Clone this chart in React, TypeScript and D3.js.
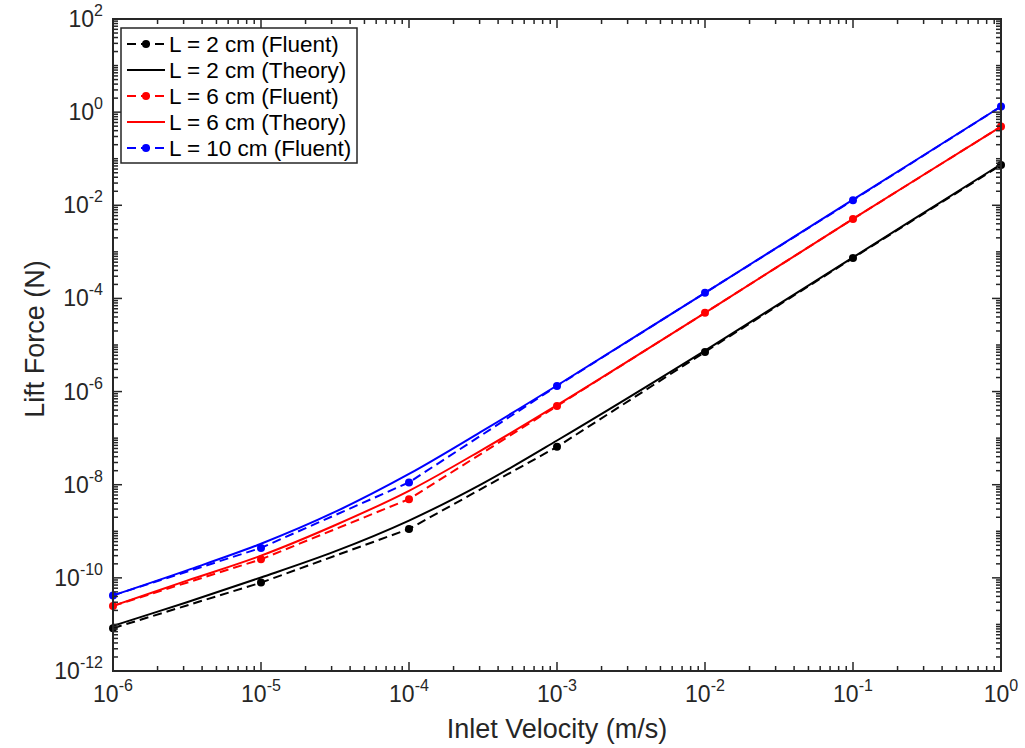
import React from "react";
import * as d3 from "d3";

// inlet velocity (m/s) at the Fluent sample points
const velocity = [1e-6, 1e-5, 1e-4, 1e-3, 1e-2, 1e-1, 1];
// Fluent results, lift force (N)
const fluent2 = [8.3e-12, 7.9e-11, 1.12e-9, 6.5e-8, 7.1e-6, 7.4e-4, 7.3e-2];
const fluent6 = [2.5e-11, 2.5e-10, 4.9e-9, 4.9e-7, 4.9e-5, 5.1e-3, 0.49];
const fluent10 = [4.2e-11, 4.4e-10, 1.12e-8, 1.32e-6, 1.32e-4, 1.29e-2, 1.32];

// theory curves, read at half decades
const velocityTheory = [1e-6, 3.16e-6, 1e-5, 3.16e-5, 1e-4, 3.16e-4, 1e-3, 1e-2, 1e-1, 1];
const theory2 = [9.3e-12, 3.0e-11, 1.02e-10, 3.7e-10, 1.7e-9, 1.07e-8, 8.9e-8, 7.6e-6, 7.6e-4, 7.6e-2];
const theory6 = [2.5e-11, 8.7e-11, 3.0e-10, 1.35e-9, 7.4e-9, 5.75e-8, 5.1e-7, 4.9e-5, 5.1e-3, 0.49];
const theory10 = [4.2e-11, 1.45e-10, 5.4e-10, 2.6e-9, 1.7e-8, 1.45e-7, 1.35e-6, 1.32e-4, 1.32e-2, 1.32];

const xExponents = [-6, -5, -4, -3, -2, -1, 0];
const yExponents = [-12, -10, -8, -6, -4, -2, 0, 2];

const legendLabels = [
  "L = 2 cm (Fluent)",
  "L = 2 cm (Theory)",
  "L = 6 cm (Fluent)",
  "L = 6 cm (Theory)",
  "L = 10 cm (Fluent)",
];

const FONT = "'Liberation Sans', Arial, Helvetica, sans-serif";
const AXIS = "#262626";

export default function App() {
  const left = 113, right = 1001, top = 19, bottom = 671;

  const x = d3.scaleLog().domain([1e-6, 1]).range([left, right]);
  const y = d3.scaleLog().domain([1e-12, 1e2]).range([bottom, top]);

  const dashLine = d3.line<[number, number]>()
    .x(d => x(d[0]))
    .y(d => y(d[1]));
  const smoothLine = d3.line<[number, number]>()
    .x(d => x(d[0]))
    .y(d => y(d[1]))
    .curve(d3.curveCatmullRom.alpha(0.5));

  const fluent = [
    { values: fluent2, color: "#000000" },
    { values: fluent6, color: "#ff0000" },
    { values: fluent10, color: "#0000ff" },
  ];
  const theory = [
    { values: theory2, color: "#000000" },
    { values: theory6, color: "#ff0000" },
    { values: theory10, color: "#0000ff" },
  ];

  // minor ticks (2..9 in each decade, plus odd decades on y)
  const xMinor: number[] = [];
  for (let k = -6; k < 0; k++) for (let m = 2; m <= 9; m++) xMinor.push(m * Math.pow(10, k));
  const yMinor: number[] = [];
  for (let k = -12; k < 2; k++) for (let m = 1; m <= 9; m++) {
    if (m === 1 && k % 2 === 0) continue;
    yMinor.push(m * Math.pow(10, k));
  }
  const MAJ = 9, MIN = 5;

  const legendColors = ["#000000", "#000000", "#ff0000", "#ff0000", "#0000ff"];
  const legendDashed = [true, false, true, false, true];

  return (
    <svg width={1025} height={748} style={{ position: "absolute", left: 0, top: 0, background: "#fff" }}>
      <rect x={0} y={0} width={1025} height={748} fill="#fff" />

      {/* theory curves */}
      {theory.map((s, i) => (
        <path key={"t" + i}
          d={smoothLine(velocityTheory.map((v, j) => [v, s.values[j]] as [number, number])) || ""}
          fill="none" stroke={s.color} strokeWidth={2} />
      ))}

      {/* fluent results */}
      {fluent.map((s, i) => (
        <g key={"f" + i}>
          <path d={dashLine(velocity.map((v, j) => [v, s.values[j]] as [number, number])) || ""}
            fill="none" stroke={s.color} strokeWidth={2} strokeDasharray="9,5" />
          {velocity.map((v, j) => (
            <circle key={j} cx={x(v)} cy={y(s.values[j])} r={4} fill={s.color} />
          ))}
        </g>
      ))}

      {/* axes box and ticks */}
      <g stroke={AXIS} strokeWidth={1.5}>
        {xExponents.map(k => {
          const px = x(Math.pow(10, k));
          return (
            <g key={"xM" + k}>
              <line x1={px} x2={px} y1={bottom} y2={bottom - MAJ} />
              <line x1={px} x2={px} y1={top} y2={top + MAJ} />
            </g>
          );
        })}
        {xMinor.map((v, i) => (
          <g key={"xm" + i}>
            <line x1={x(v)} x2={x(v)} y1={bottom} y2={bottom - MIN} />
            <line x1={x(v)} x2={x(v)} y1={top} y2={top + MIN} />
          </g>
        ))}
        {yExponents.map(k => {
          const py = y(Math.pow(10, k));
          return (
            <g key={"yM" + k}>
              <line x1={left} x2={left + MAJ} y1={py} y2={py} />
              <line x1={right} x2={right - MAJ} y1={py} y2={py} />
            </g>
          );
        })}
        {yMinor.map((v, i) => (
          <g key={"ym" + i}>
            <line x1={left} x2={left + MIN} y1={y(v)} y2={y(v)} />
            <line x1={right} x2={right - MIN} y1={y(v)} y2={y(v)} />
          </g>
        ))}
      </g>
      <rect x={left} y={top} width={right - left} height={bottom - top}
        fill="none" stroke={AXIS} strokeWidth={2} />

      {/* tick labels */}
      <g fontFamily={FONT} fill={AXIS}>
        {xExponents.map(k => (
          <text key={"xl" + k} x={x(Math.pow(10, k))} y={bottom + 31} fontSize={23} textAnchor="middle">
            10<tspan dy={-11} fontSize={16}>{k}</tspan>
          </text>
        ))}
        {yExponents.map(k => (
          <text key={"yl" + k} x={left - 10} y={y(Math.pow(10, k)) + 8} fontSize={23} textAnchor="end">
            10<tspan dy={-11} fontSize={16}>{k}</tspan>
          </text>
        ))}
        <text x={(left + right) / 2} y={738} fontSize={27} textAnchor="middle">Inlet Velocity (m/s)</text>
        <text transform={`translate(44,${(top + bottom) / 2 - 6}) rotate(-90)`} fontSize={27} textAnchor="middle">Lift Force (N)</text>
      </g>

      {/* legend */}
      <g fontFamily={FONT}>
        <rect x={121} y={28} width={236} height={135} fill="#fff" stroke={AXIS} strokeWidth={1.5} />
        {legendLabels.map((label, i) => {
          const ly = 44 + i * 26;
          return (
            <g key={"lg" + i}>
              <line x1={127} x2={165} y1={ly} y2={ly} stroke={legendColors[i]} strokeWidth={2}
                strokeDasharray={legendDashed[i] ? "9,5" : undefined} />
              {legendDashed[i] && <circle cx={146} cy={ly} r={4} fill={legendColors[i]} />}
              <text x={169} y={ly + 8} fontSize={22.5} fill="#000">{label}</text>
            </g>
          );
        })}
      </g>
    </svg>
  );
}
